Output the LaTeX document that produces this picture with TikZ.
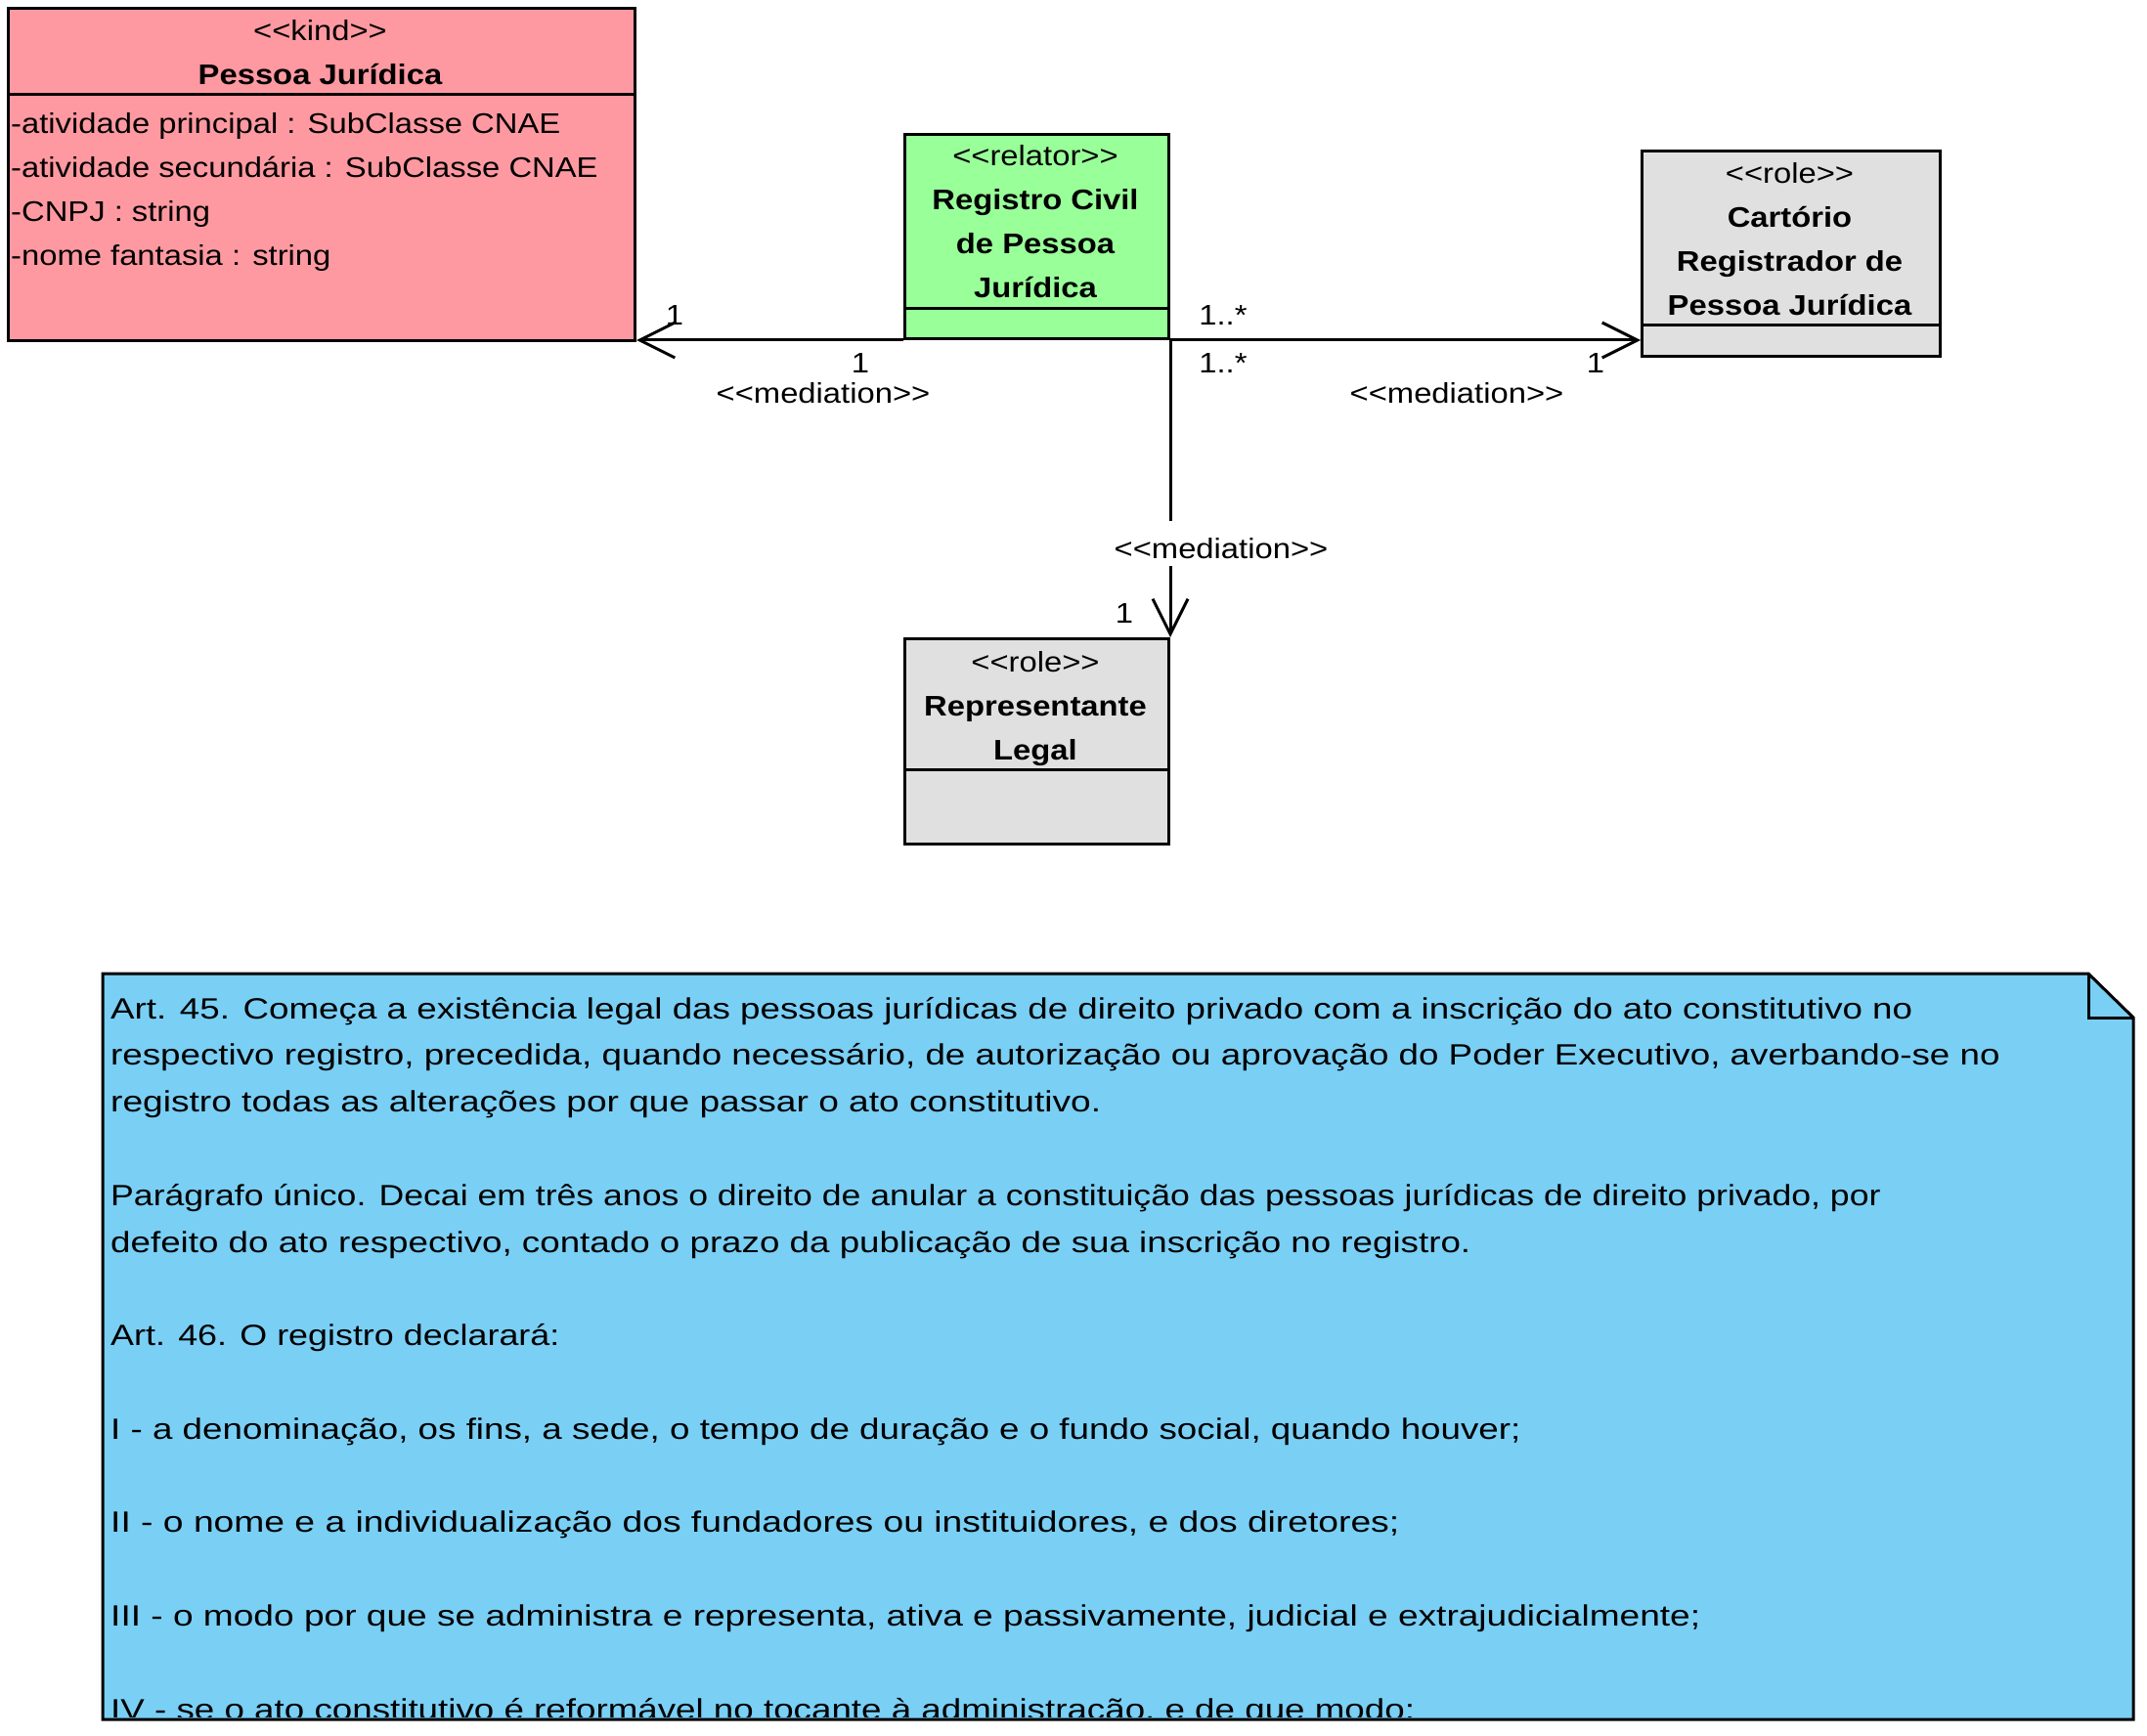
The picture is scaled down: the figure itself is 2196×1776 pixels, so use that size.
\documentclass[tikz,border=0pt]{standalone}
\usepackage{graphicx}
\usepackage{fontspec}
\setmainfont{Liberation Sans}[FakeStretch=1.13, Ligatures=TeXOff]
\newfontfamily\notefont{Liberation Sans}[FakeStretch=1.225, Ligatures=TeXOff]
\usetikzlibrary{arrows.meta}

\definecolor{kindpink}{HTML}{FF99A1}
\definecolor{relatorgreen}{HTML}{99FF99}
\definecolor{rolegray}{HTML}{E0E0E0}
\definecolor{noteblue}{HTML}{7ACFF5}

\tikzset{
  umlbox/.style={draw, line width=3pt, inner sep=0pt, anchor=north west},
  divider/.style={line width=3pt},
  ctxt/.style={inner sep=0pt, anchor=base},
  ltxt/.style={inner sep=0pt, anchor=base west},
  notetxt/.style={inner sep=0pt, anchor=base west, font=\notefont\fontsize{30}{36}\selectfont},
  assoc/.style={line width=3pt, -{Straight Barb[length=36pt,width=36pt]}},
  stereo/.style={inner sep=0pt, anchor=base, fill=white, text height=30pt, text depth=0pt, inner ysep=8pt, inner xsep=2pt},
}

\begin{document}
\begin{tikzpicture}[x=1pt, y=-1pt, font=\fontsize{29}{35}\selectfont]
\useasboundingbox (0,0) rectangle (2196,1776);

% --- classes ---
\node[umlbox, fill=kindpink, minimum width=641pt, minimum height=340pt] (pj) at (7,7) {};
\draw[divider] (7,97) -- (648,97);
\node[ctxt] (pjs) at (327.5,42) {<<kind>>};
\node[ctxt] (pjn) at (327.5,87) {\bfseries Pessoa Jurídica};
\node[ltxt] (a1) at (11,137) {-atividade principal : SubClasse CNAE};
\node[ltxt] (a2) at (11,182) {-atividade secundária : SubClasse CNAE};
\node[ltxt] (a3) at (11,227) {-CNPJ : string};
\node[ltxt] (a4) at (11,272) {-nome fantasia : string};

\node[umlbox, fill=relatorgreen, minimum width=270pt, minimum height=209pt] (rc) at (924,136) {};
\draw[divider] (924,316) -- (1194,316);
\node[ctxt] (rcs) at (1059,170) {<<relator>>};
\node[ctxt] (rc1) at (1059,215) {\bfseries Registro Civil};
\node[ctxt] (rc2) at (1059,260) {\bfseries de Pessoa};
\node[ctxt] (rc3) at (1059,305) {\bfseries Jurídica};

\node[umlbox, fill=rolegray, minimum width=305pt, minimum height=210pt] (cr) at (1678,153) {};
\draw[divider] (1678,333) -- (1983,333);
\node[ctxt] (crs) at (1830.5,188) {<<role>>};
\node[ctxt] (cr1) at (1830.5,233) {\bfseries Cartório};
\node[ctxt] (cr2) at (1830.5,278) {\bfseries Registrador de};
\node[ctxt] (cr3) at (1830.5,323) {\bfseries Pessoa Jurídica};

\node[umlbox, fill=rolegray, minimum width=270pt, minimum height=210pt] (rl) at (924,652) {};
\draw[divider] (924,787) -- (1194,787);
\node[ctxt] (rls) at (1059,687) {<<role>>};
\node[ctxt] (rl1) at (1059,732) {\bfseries Representante};
\node[ctxt] (rl2) at (1059,777) {\bfseries Legal};

% --- mediations ---
\draw[assoc] (rc.south west) -- (rc.south west -| pj.east);
\draw[assoc] (rc.south east) -- (rc.south east -| cr.west);
\draw[assoc] (rc.south east) -- (rc.south east |- rl.north);

\node[ctxt] (m1a) at (690,333) {1};
\node[ctxt] (m1b) at (880,382) {1};
\node[ctxt] (s1) at (842,413) {<<mediation>>};

\node[ctxt] (m2a) at (1251,333) {1..*};
\node[ctxt] (m2b) at (1251,382) {1..*};
\node[ctxt] (m2c) at (1632,382) {1};
\node[ctxt] (s2) at (1490,413) {<<mediation>>};

\node[stereo] (s3) at (1249,571) {<<mediation>>};
\node[ctxt] (m3) at (1150,637) {1};

% --- note ---
\fill[noteblue] (105,996) -- (2136,996) -- (2182,1041) -- (2182,1759) -- (105,1759) -- cycle;
\begin{scope}
\clip (105,996) rectangle (2182,1756);
\node[notetxt] (n1) at (113,1042) {Art. 45. Começa a existência legal das pessoas jurídicas de direito privado com a inscrição do ato constitutivo no};
\node[notetxt] (n2) at (113,1089.8) {respectivo registro, precedida, quando necessário, de autorização ou aprovação do Poder Executivo, averbando-se no};
\node[notetxt] (n3) at (113,1137.6) {\scalebox{1.01}[1]{registro todas as alterações por que passar o ato constitutivo.}};
\node[notetxt] (n4) at (113,1233.2) {\scalebox{0.969}[1]{Parágrafo único. Decai em três anos o direito de anular a constituição das pessoas jurídicas de direito privado, por}};
\node[notetxt] (n5) at (113,1281) {defeito do ato respectivo, contado o prazo da publicação de sua inscrição no registro.};
\node[notetxt] (n6) at (113,1376.6) {\scalebox{0.976}[1]{Art. 46. O registro declarará:}};
\node[notetxt] (n7) at (113,1472.2) {I - a denominação, os fins, a sede, o tempo de duração e o fundo social, quando houver;};
\node[notetxt] (n8) at (113,1567.8) {\scalebox{1.013}[1]{II - o nome e a individualização dos fundadores ou instituidores, e dos diretores;}};
\node[notetxt] (n9) at (113,1663.4) {\scalebox{1.009}[1]{III - o modo por que se administra e representa, ativa e passivamente, judicial e extrajudicialmente;}};
\node[notetxt] (n10) at (113,1759) {IV - se o ato constitutivo é reformável no tocante à administração, e de que modo;};
\end{scope}
\draw[line width=3pt, line join=miter] (105,996) -- (2136,996) -- (2182,1041) -- (2182,1759) -- (105,1759) -- cycle;
\draw[line width=3pt] (2136,996) -- (2136,1041) -- (2182,1041);
\end{tikzpicture}
\end{document}
